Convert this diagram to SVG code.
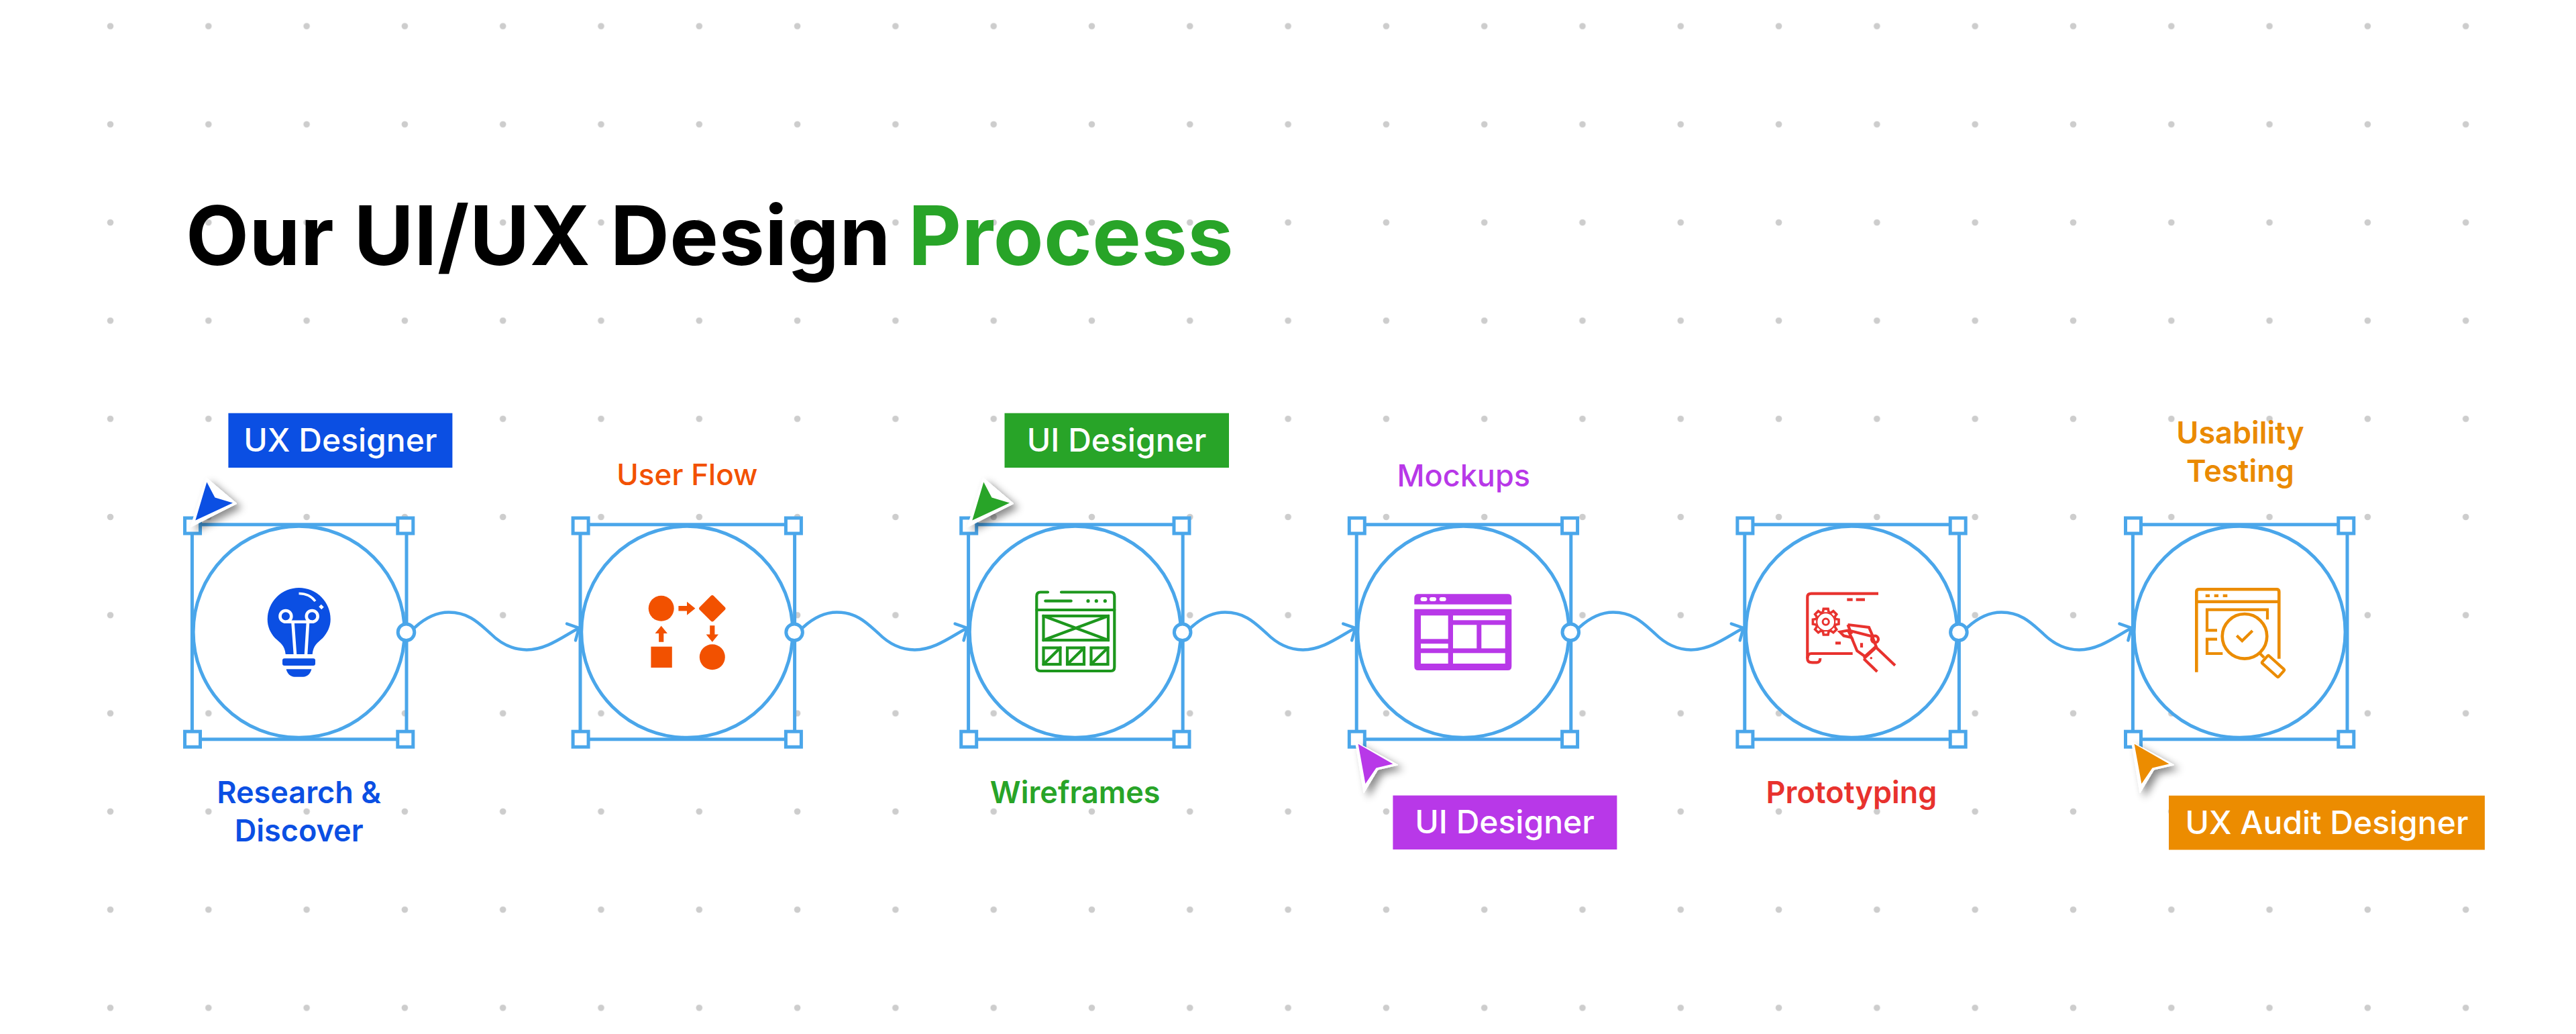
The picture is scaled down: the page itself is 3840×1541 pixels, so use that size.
<svg xmlns="http://www.w3.org/2000/svg" xmlns:xlink="http://www.w3.org/1999/xlink" width="3840" height="1541" viewBox="0 0 3840 1541">
<style>
text{font-family:"Inter","Liberation Sans",sans-serif}
.title{font-size:122px;font-weight:700;letter-spacing:.5px}
.lbl{font-size:45px;font-weight:600;text-anchor:middle}
.tagt{font-size:48px;font-weight:500;fill:#fff;text-anchor:middle}
.box{fill:none;stroke:#4aa6ea;stroke-width:5}
.ring{fill:#fff;stroke:#4aa6ea;stroke-width:5}
.h{fill:#fff;stroke:#4aa6ea;stroke-width:5}
.conn{fill:none;stroke:#4aa6ea;stroke-width:4.5;stroke-linecap:round}
.line{fill:none;stroke-width:4.2}
</style>
<defs>
<pattern id="dots" patternUnits="userSpaceOnUse" x="91.35" y="-34.15" width="146.3" height="146.3"><circle cx="73.15" cy="73.15" r="4.8" fill="#cdcdcd"/></pattern>
<marker id="arr" markerUnits="userSpaceOnUse" viewBox="-20 -20 24 40" markerWidth="24" markerHeight="40" refX="0" refY="0" orient="auto"><path d="M-13 -14L0 0L-13 14" fill="none" stroke="#4aa6ea" stroke-width="4.5" stroke-linecap="round"/></marker>
<filter id="sh" x="-50%" y="-50%" width="220%" height="220%"><feDropShadow dx="7" dy="6" stdDeviation="6" flood-color="#000" flood-opacity=".45"/></filter>
<g id="frame">
<rect class="box" x="286.4" y="781.8" width="319.6" height="320"/>
<circle class="ring" cx="445.6" cy="941.8" r="157.5"/>
<rect class="h" x="275.5" y="772" width="23" height="23"/>
<rect class="h" x="592.8" y="772" width="23" height="23"/>
<rect class="h" x="275.5" y="1090.2" width="23" height="23"/>
<rect class="h" x="592.8" y="1090.2" width="23" height="23"/>
</g>
<circle id="anchor" class="ring" cx="605.5" cy="942.2" r="12.3"/>
<path id="curve" class="conn" marker-end="url(#arr)" d="M618.5 935C635 920 652 912.6 669 912.6C700 912.6 715 930 731 944C745 958 763 968.4 785 968.4C815 968.4 840 948 863 936"/>
<g id="curUp"><path d="M307.6 712L353 750.5L284 785.5Z" fill="#fff" stroke="#fff" stroke-width="1" filter="url(#sh)"/></g>
<path id="tooth" d="M-4.3 -14.5L-3.4 -19.3L3.4 -19.3L4.3 -14.5" fill="#fff" stroke="#e8322e" stroke-width="3.6"/>
</defs>
<rect width="3840" height="1541" fill="#fff"/>
<rect x="91.35" y="-34.15" width="3658" height="1575.15" fill="url(#dots)"/>
<g id="title"><text class="title" x="277" y="395" fill="#000">Our UI/UX Design</text><text class="title" x="1354" y="395" fill="#28a428">Process</text></g>

<g id="node-research"><use href="#frame"/><use href="#anchor"/>
<g id="icon-bulb" fill="#0b4fe3"><path d="M425.7 975C424.5 962 418 958 410 951C403 943 398.7 934 398.7 923A47 47 0 0 1 492.7 923C492.7 934 488 943 481 951C473 958 467 962 465.7 975Z"/><rect x="421" y="981.3" width="49" height="10.7" rx="3"/><path d="M426.7 997.3H464.3C463 1004 458 1008.7 452 1008.7H439C433 1008.7 428 1004 426.7 997.3Z"/>
<g fill="none" stroke="#fff" stroke-width="4.6"><path d="M440 976L436.5 927.5M456 976L459 927.5M425.7 926.8H465.3"/><circle cx="425.9" cy="918.4" r="8.4"/><circle cx="465.2" cy="918.4" r="8.4"/><path d="M445.5 884.5C457 884.5 464 888 470 896" stroke-width="3.6"/><path d="M477 902.5l4 4" stroke-width="5"/></g></g>
<text class="lbl" x="445.6" y="1197" fill="#0b4fe3">Research &amp;</text><text class="lbl" x="445.6" y="1254" fill="#0b4fe3">Discover</text></g>

<g id="node-userflow"><use href="#frame" x="578.6"/><use href="#anchor" x="578.6"/>
<g id="icon-flow" fill="#f25100"><circle cx="985.7" cy="906.7" r="19"/><rect x="1047.05" y="892.05" width="29.5" height="29.5" rx="3" transform="rotate(45 1061.8 906.8)"/><rect x="970.4" y="963.7" width="31.4" height="31.3"/><circle cx="1061.8" cy="979.3" r="19"/>
<path d="M1011.4 903H1024V896.7L1036.4 906.7L1024 916.7V910.4H1011.4Z"/><path d="M1058.2 932.3H1065.4V945.5H1071L1061.8 956.7L1052.6 945.5H1058.2Z"/><path d="M982.1 956.7V944H976.5L985.7 932.7L994.9 944H989.3V956.7Z"/></g>
<text class="lbl" x="1024.4" y="722.7" fill="#f25100" style="font-weight:500;font-size:44px">User Flow</text></g>

<g id="node-wireframes"><use href="#frame" x="1157.2"/><use href="#anchor" x="1157.2"/>
<g id="icon-wire" class="line" stroke="#1d971d" stroke-linecap="round"><path d="M1562 882.5H1551Q1545.3 882.5 1545.3 888.5V994Q1545.3 1000 1551 1000H1656Q1661.3 1000 1661.3 994V888.5Q1661.3 882.5 1656 882.5H1582"/><path d="M1545.3 909H1661.3M1558.3 895.7H1596.7"/><rect x="1555.5" y="918" width="96.5" height="36"/><path d="M1555.5 918L1652 954M1652 918L1555.5 954"/>
<rect x="1555.5" y="965.5" width="25" height="24.5"/><rect x="1591" y="965.5" width="25" height="24.5"/><rect x="1626.5" y="965.5" width="25" height="24.5"/><path d="M1555.5 990L1580.5 965.5M1591 990L1616 965.5M1626.5 990L1651.5 965.5"/>
<g fill="#1d971d" stroke="none"><circle cx="1622" cy="895.7" r="2.6"/><circle cx="1634.3" cy="895.7" r="2.6"/><circle cx="1647.3" cy="895.7" r="2.6"/></g></g>
<text class="lbl" x="1602.7" y="1196.6" fill="#28a428">Wireframes</text></g>

<g id="node-mockups"><use href="#frame" x="1735.8"/><use href="#anchor" x="1735.8"/>
<g id="icon-mock" fill="#b838e8"><path d="M2108.3 900.7V891Q2108.3 885.3 2114 885.3H2247.5Q2253.3 885.3 2253.3 891V900.7Z"/><path d="M2108.3 907.7H2253.3V993Q2253.3 999 2247.5 999H2114Q2108.3 999 2108.3 993Z"/>
<g fill="#fff"><rect x="2117.5" y="890" width="10" height="6" rx="3"/><rect x="2131" y="890" width="10" height="6" rx="3"/><rect x="2145.7" y="890" width="10" height="6" rx="3"/><rect x="2118" y="917.3" width="40.7" height="35"/><rect x="2118" y="959.3" width="40.7" height="7"/><rect x="2118" y="973.3" width="40.7" height="15.7"/><rect x="2166" y="917.3" width="77.7" height="7"/><rect x="2166" y="931.3" width="35.3" height="35"/><rect x="2208.3" y="931.3" width="35.4" height="35"/><rect x="2166" y="973.3" width="77.7" height="15.7"/></g></g>
<text class="lbl" x="2181.7" y="724.5" fill="#b838e8" style="font-weight:500">Mockups</text></g>

<g id="node-prototyping"><use href="#frame" x="2314.4"/><use href="#anchor" x="2314.4"/>
<g id="icon-proto" class="line" stroke="#e8322e"><path d="M2800 884.7H2700Q2694.3 884.7 2694.3 890V981.7Q2694.3 987.3 2701.7 987.3H2708.3Q2713.3 987.3 2713.3 981"/><path d="M2694.3 981Q2695 974 2700 974H2761.7"/><path d="M2753.3 893.7H2761.7M2766.7 893.7H2780M2736 958.3H2744"/>
<g transform="translate(2721.7 926.7)"><circle r="14.5" fill="#fff"/><use href="#tooth"/><use href="#tooth" transform="rotate(45)"/><use href="#tooth" transform="rotate(90)"/><use href="#tooth" transform="rotate(135)"/><use href="#tooth" transform="rotate(180)"/><use href="#tooth" transform="rotate(225)"/><use href="#tooth" transform="rotate(270)"/><use href="#tooth" transform="rotate(315)"/><circle r="4.6" stroke-width="3"/></g>
<path d="M2742.7 941.7L2755 939.5L2760 950L2748.5 947.5Z"/><path d="M2754.5 931L2786 935L2791.5 947.5M2754.5 931L2760 945M2756 939.5L2790 948.3"/><circle cx="2795" cy="952.7" r="5" /><path d="M2760 950L2765 962L2768.3 970L2780 978.3L2796.7 963.3L2791.5 950M2775 958.3V965"/><path d="M2778.3 981.7L2798.3 963.3M2795 963.3L2825 991.7M2778.3 981.7L2798.3 1001"/><circle cx="2789.3" cy="980.7" r="1.8" fill="#e8322e" stroke="none"/></g>
<text class="lbl" x="2760" y="1196.7" fill="#e8322e">Prototyping</text></g>

<g id="node-usability"><use href="#frame" x="2893"/>
<g id="icon-audit" class="line" stroke="#eb8c00"><path d="M3274.3 1001.7V881.7Q3274.3 878.3 3278.3 878.3H3393.3Q3397.3 878.3 3397.3 881.7V981.7" stroke-width="4.6"/><path d="M3274.3 896.7H3397.3" stroke-width="4.6"/><g fill="#eb8c00" stroke="none"><rect x="3287.7" y="885.7" width="6.3" height="4.3"/><rect x="3300.7" y="885.7" width="6.3" height="4.3"/><rect x="3313.7" y="885.7" width="6.6" height="4.3"/></g>
<path d="M3380 923.3V908.7H3290V939.3H3305M3305 952.7H3290V974H3313.3"/><circle cx="3346" cy="948.3" r="33.3" fill="#fff" stroke-width="4.6"/><path d="M3334.3 947.3L3342.3 955L3357.7 940"/><path d="M3368.5 973.5L3375 980"/><rect x="3372" y="985.5" width="33" height="15" rx="2" transform="rotate(42 3388.5 993)"/></g>
<text class="lbl" x="3339.5" y="660.7" fill="#ea8a00">Usability</text><text class="lbl" x="3339.5" y="718.4" fill="#ea8a00">Testing</text></g>

<g id="connectors"><use href="#curve"/><use href="#curve" x="578.6"/><use href="#curve" x="1157.2"/><use href="#curve" x="1735.8"/><use href="#curve" x="2314.4"/></g>

<g id="cursor-ux"><use href="#curUp"/><path d="M308.3 718.4L320.4 741.6L347 749.6L291.3 775.5Z" fill="#0b4fe3"/></g>
<g id="cursor-ui" transform="translate(1158 0)"><use href="#curUp"/><path d="M308.3 718.4L320.4 741.6L347 749.6L291.3 775.5Z" fill="#28a428"/></g>
<g id="cursor-mock"><path d="M2020.5 1105.5L2084 1140L2054 1147L2032.9 1182Z" fill="#fff" stroke="#fff" filter="url(#sh)"/><path d="M2024.6 1108.8L2076.4 1138.5L2051.4 1144.4L2035.4 1168Z" fill="#b838e8"/></g>
<g id="cursor-audit" transform="translate(1157 0)"><path d="M2020.5 1105.5L2084 1140L2054 1147L2032.9 1182Z" fill="#fff" stroke="#fff" filter="url(#sh)"/><path d="M2024.6 1108.8L2076.4 1138.5L2051.4 1144.4L2035.4 1168Z" fill="#ec8c00"/></g>

<g id="tag-ux"><rect x="340.4" y="615.7" width="334" height="81.3" fill="#0b4fe3"/><text class="tagt" x="507.4" y="673">UX Designer</text></g>
<g id="tag-ui"><rect x="1497.5" y="615.7" width="334.5" height="81.3" fill="#28a428"/><text class="tagt" x="1664.5" y="673">UI Designer</text></g>
<g id="tag-ui2"><rect x="2076.4" y="1185.5" width="334" height="80.5" fill="#b838e8"/><text class="tagt" x="2243" y="1242">UI Designer</text></g>
<g id="tag-audit"><rect x="3233" y="1185.7" width="471" height="80.8" fill="#ec8c00"/><text class="tagt" x="3468.5" y="1242.5">UX Audit Designer</text></g>
</svg>
